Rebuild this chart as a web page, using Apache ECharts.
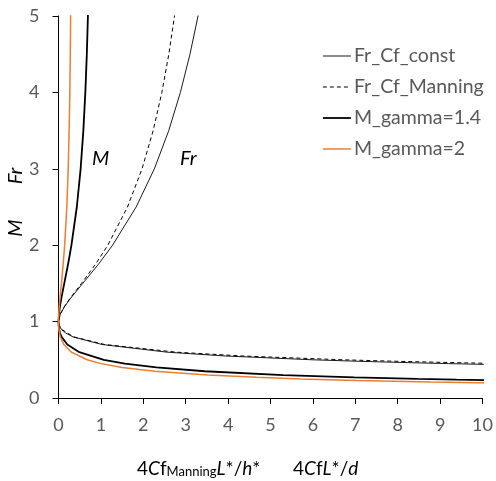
<!DOCTYPE html>
<html>
<head>
<meta charset="utf-8">
<script src="https://cdn.jsdelivr.net/npm/echarts@6/dist/echarts.min.js"></script>
<style>
html,body{margin:0;padding:0;background:#fff;}
#chart{width:496px;height:481px;}
</style>
</head>
<body>
<div id="chart"></div>
<script>
// Series names
var seriesNames = ['Fr_Cf_const', 'Fr_Cf_Manning', 'M_gamma=1.4', 'M_gamma=2'];

// Tick labels
var xTicks = [0,1,2,3,4,5,6,7,8,9,10];
var yTicks = [0,1,2,3,4,5];

// Fr_Cf_const : [x, Fr]  (subsonic branch then supersonic branch)
var frConst = [
  [10.03,0.44],[9.20,0.45],[8.44,0.46],[7.11,0.48],[6.00,0.50],[3.93,0.55],[2.56,0.60],
  [1.03,0.70],[0.343,0.80],[0.169,0.85],[0.067,0.90],[0.015,0.95],[0,1.00],
  [0.044,1.1],[0.146,1.2],[0.277,1.3],[0.573,1.5],[0.941,1.75],[1.275,2.0],[1.831,2.5],
  [2.261,3.0],[2.600,3.5],[2.875,4.0],[3.101,4.5],[3.291,5.0],[3.454,5.5]
];

// Fr_Cf_Manning : [x, Fr]
var frManning = [
  [10.49,0.45],[9.59,0.46],[8.02,0.48],[6.72,0.50],[4.33,0.55],[2.78,0.60],
  [1.089,0.70],[0.355,0.80],[0.068,0.90],[0.015,0.95],[0,1.00],
  [0.043,1.1],[0.142,1.2],[0.267,1.3],[0.542,1.5],[0.872,1.75],[1.163,2.0],[1.627,2.5],
  [1.971,3.0],[2.233,3.5],[2.438,4.0],[2.602,4.5],[2.736,5.0],[2.849,5.5]
];

// M_gamma=1.4 : [x, M]
var mG14 = [
  [10.42,0.23],[9.39,0.24],[8.48,0.25],[6.98,0.27],[5.30,0.30],[3.45,0.35],[2.31,0.40],
  [1.566,0.45],[1.069,0.50],[0.491,0.60],[0.208,0.70],[0.072,0.80],[0.036,0.85],
  [0.0145,0.90],[0.0033,0.95],[0,1.00],
  [0.0099,1.1],[0.0336,1.2],[0.0648,1.3],[0.136,1.5],[0.225,1.75],[0.305,2.0],[0.432,2.5],
  [0.522,3.0],[0.586,3.5],[0.633,4.0],[0.668,4.5],[0.694,5.0],[0.714,5.5]
];

// M_gamma=2 : [x, M]
var mG2 = [
  [10.49,0.195],[9.875,0.20],[8.78,0.21],[7.03,0.23],[5.70,0.25],[4.67,0.27],[3.52,0.30],
  [2.27,0.35],[1.497,0.40],[1.003,0.45],[0.676,0.50],[0.303,0.60],[0.125,0.70],
  [0.042,0.80],[0.0083,0.90],[0.0019,0.95],[0,1.00],
  [0.0054,1.1],[0.0181,1.2],[0.0341,1.3],[0.0692,1.5],[0.110,1.75],[0.145,2.0],[0.196,2.5],
  [0.229,3.0],[0.251,3.5],[0.267,4.0],[0.278,4.5],[0.286,5.0],[0.292,5.5]
];

var FONT = 'Lato, "Open Sans", sans-serif';
var GREY = '#595959';
var lineStyles = [
  {color: '#000', width: 0.9, type: 'solid'},
  {color: '#000', width: 1, type: [4,3]},
  {color: '#000', width: 1.8, type: 'solid'},
  {color: '#ED7D31', width: 1.5, type: 'solid'}
];

var chart = echarts.init(document.getElementById('chart'), null, {renderer:'canvas'});
chart.setOption({
  animation: false,
  backgroundColor: '#fff',
  grid: {left: 58.5, right: 13.5, top: 16, bottom: 83, containLabel: false},
  legend: {
    orient: 'vertical',
    left: 317, top: 41,
    itemWidth: 28, itemHeight: 14, itemGap: 11,
    data: seriesNames.map(function(n, i){ return {name: n, lineStyle: lineStyles[i]}; }),
    itemStyle: {opacity: 0},
    textStyle: {fontFamily: FONT, fontSize: 19.5, color: GREY, padding: [0,0,0,-2]}
  },
  xAxis: {
    type: 'value', min: 0, max: 10, interval: 1,
    axisLine: {show: true, onZero: false, lineStyle: {color: '#000', width: 1}},
    axisTick: {show: true, length: 6, lineStyle: {color: '#000'}},
    axisLabel: {margin: 18, fontFamily: FONT, fontSize: 18, color: GREY,
      formatter: function(v){ return xTicks.indexOf(v) >= 0 ? String(v) : ''; }},
    splitLine: {show: false}
  },
  yAxis: {
    type: 'value', min: 0, max: 5, interval: 1,
    axisLine: {show: true, onZero: false, lineStyle: {color: '#000', width: 1}},
    axisTick: {show: true, length: 6, lineStyle: {color: '#000'}},
    axisLabel: {margin: 19, fontFamily: FONT, fontSize: 18, color: GREY,
      formatter: function(v){ return yTicks.indexOf(v) >= 0 ? String(v) : ''; }},
    splitLine: {show: false}
  },
  series: [
    {name: seriesNames[0], type: 'line', data: frConst, showSymbol: false, symbol: 'none',
     lineStyle: lineStyles[0], itemStyle: {color: '#000'}, z: 2},
    {name: seriesNames[1], type: 'line', data: frManning, showSymbol: false, symbol: 'none',
     lineStyle: lineStyles[1], itemStyle: {color: '#000'}, z: 3},
    {name: seriesNames[2], type: 'line', data: mG14, showSymbol: false, symbol: 'none',
     lineStyle: lineStyles[2], itemStyle: {color: '#000'}, z: 4},
    {name: seriesNames[3], type: 'line', data: mG2, showSymbol: false, symbol: 'none',
     lineStyle: lineStyles[3], itemStyle: {color: '#ED7D31'}, z: 5}
  ],
  graphic: [
    {type: 'text', left: 92, top: 149, style: {text: 'M', fontFamily: FONT, fontStyle: 'italic', fontSize: 20, fill: '#000'}},
    {type: 'text', left: 180, top: 149, style: {text: 'Fr', fontFamily: FONT, fontStyle: 'italic', fontSize: 20, fill: '#000'}},
    {type: 'text', x: 16, y: 176, rotation: Math.PI/2, style: {text: 'Fr', fontFamily: FONT, fontStyle: 'italic', fontSize: 20, fill: '#000', align: 'center', verticalAlign: 'middle'}},
    {type: 'text', x: 16, y: 228, rotation: Math.PI/2, style: {text: 'M', fontFamily: FONT, fontStyle: 'italic', fontSize: 20, fill: '#000', align: 'center', verticalAlign: 'middle'}},
    {type: 'text', left: 137, top: 459, style: {
      text: '{n|4}{i|C}{n|f}{s|Manning}{i|L}{n|*/}{i|h}{n|*}',
      rich: {
        n: {fontFamily: FONT, fontSize: 19, fill: '#000', verticalAlign: 'bottom'},
        i: {fontFamily: FONT, fontSize: 19, fontStyle: 'italic', fill: '#000', verticalAlign: 'bottom'},
        s: {fontFamily: FONT, fontSize: 13, fill: '#000', verticalAlign: 'bottom'}
      }}},
    {type: 'text', left: 293, top: 459, style: {
      text: '{n|4}{i|C}{n|f}{i|L}{n|*/}{i|d}',
      rich: {
        n: {fontFamily: FONT, fontSize: 19, fill: '#000', verticalAlign: 'bottom'},
        i: {fontFamily: FONT, fontSize: 19, fontStyle: 'italic', fill: '#000', verticalAlign: 'bottom'}
      }}}
  ]
});
</script>
</body>
</html>
